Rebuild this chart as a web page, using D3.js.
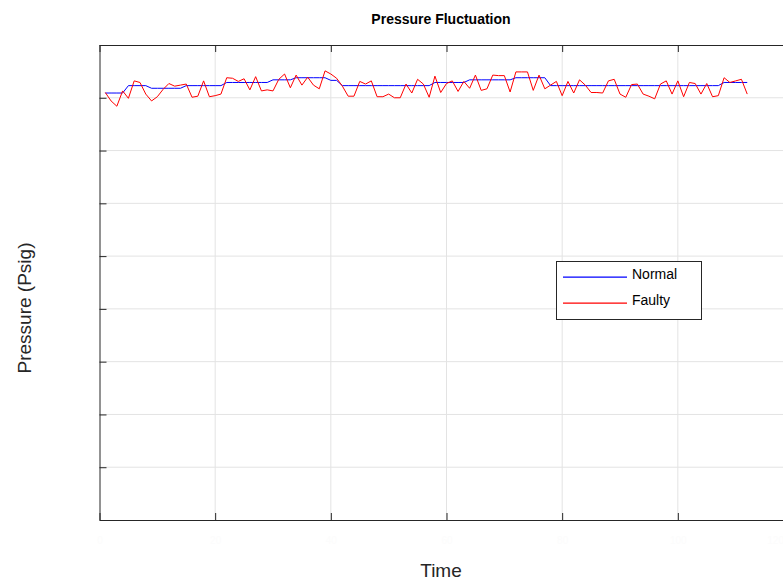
<!DOCTYPE html>
<html>
<head>
<meta charset="utf-8">
<script src="https://cdn.jsdelivr.net/npm/d3@7/dist/d3.min.js"></script>
<style>
  html, body { margin: 0; padding: 0; background: #fff; }
  svg { display: block; font-family: "Liberation Sans", Arial, sans-serif; }
</style>
</head>
<body>
<svg id="chart" width="783" height="581"></svg>
<script>
// ---- Data ----
const time = d3.range(1, 113); // t = 1 .. 112

const normal = [
  80.9, 80.9, 80.9, 80.9, 82.3, 82.3, 82.3, 82.3, 81.8, 81.8,
  81.8, 81.8, 81.8, 81.8, 82.3, 82.3, 82.3, 82.3, 82.3, 82.3,
  82.3, 82.9, 82.9, 82.9, 82.9, 82.9, 82.9, 82.9, 82.9, 83.4,
  83.4, 83.4, 83.4, 83.8, 83.8, 83.8, 83.8, 83.8, 83.8, 83.3,
  83.3, 82.3, 82.3, 82.3, 82.3, 82.3, 82.3, 82.3, 82.3, 82.3,
  82.3, 82.3, 82.3, 82.3, 82.3, 82.3, 82.3, 82.9, 82.9, 82.9,
  82.9, 82.9, 82.9, 83.4, 83.4, 83.4, 83.4, 83.4, 83.4, 83.4,
  83.4, 83.8, 83.8, 83.8, 83.8, 83.8, 83.8, 82.3, 82.3, 82.3,
  82.3, 82.3, 82.3, 82.3, 82.3, 82.3, 82.3, 82.3, 82.3, 82.3,
  82.3, 82.3, 82.3, 82.3, 82.3, 82.3, 82.3, 82.3, 82.3, 82.3,
  82.3, 82.3, 82.3, 82.3, 82.3, 82.3, 82.3, 82.9, 82.9, 82.9,
  82.9, 82.9
];

const faulty = [
  81.0, 79.4, 78.4, 81.3, 79.9, 83.2, 82.9, 80.7, 79.4, 80.2,
  81.6, 82.7, 82.2, 82.4, 82.6, 80.1, 80.3, 83.2, 80.2, 80.4,
  80.7, 83.8, 83.7, 83.1, 83.6, 81.5, 84.0, 81.3, 81.5, 81.3,
  83.5, 84.5, 81.9, 84.3, 82.4, 83.9, 82.4, 81.7, 85.1, 84.5,
  83.7, 82.2, 80.3, 80.3, 83.1, 82.6, 83.2, 80.2, 80.2, 80.7,
  80.0, 80.0, 82.6, 80.9, 83.5, 82.6, 80.1, 84.1, 81.0, 82.7,
  83.2, 81.2, 83.1, 81.8, 84.3, 81.4, 81.7, 84.3, 84.2, 84.2,
  81.1, 84.9, 84.9, 84.9, 81.4, 84.3, 81.7, 82.4, 83.1, 80.4,
  83.1, 80.9, 83.4, 82.4, 81.0, 81.0, 80.9, 83.2, 83.5, 80.7,
  80.1, 82.5, 82.6, 80.7, 80.3, 79.8, 82.6, 83.2, 80.7, 83.2,
  80.2, 82.9, 82.7, 80.7, 82.7, 80.2, 80.4, 83.8, 82.9, 83.2,
  83.5, 80.7
];

const xTicks = [0, 20, 40, 60, 80, 100, 120];
const yTicks = [0, 10, 20, 30, 40, 50, 60, 70, 80, 90];
const seriesNames = ["Normal", "Faulty"];
const seriesColors = ["#0000ff", "#ff0000"];

// ---- Layout ----
const svg = d3.select("#chart");
const L = 99.5, R = 793.5, T = 45, B = 520;

const x = d3.scaleLinear().domain([0, 120]).range([L, R]);
const y = d3.scaleLinear().domain([0, 90]).range([B, T]);

// grid
const grid = svg.append("g");
grid.selectAll("line.vg").data(xTicks.slice(1)).join("line")
  .attr("x1", d => x(d)).attr("x2", d => x(d))
  .attr("y1", T).attr("y2", B)
  .attr("stroke", "#e3e3e3").attr("stroke-width", 1);
grid.selectAll("line.hg").data(yTicks.slice(1, -1)).join("line")
  .attr("x1", L).attr("x2", R)
  .attr("y1", d => y(d)).attr("y2", d => y(d))
  .attr("stroke", "#e3e3e3").attr("stroke-width", 1);

// lines
const line = d3.line().x((d, i) => x(time[i])).y(d => y(d));
svg.append("path").datum(normal).attr("d", line)
  .attr("fill", "none").attr("stroke", seriesColors[0]).attr("stroke-width", 1);
svg.append("path").datum(faulty).attr("d", line)
  .attr("fill", "none").attr("stroke", seriesColors[1]).attr("stroke-width", 1);

// axes (ticks inward)
const axColor = "#262626";
const xb = svg.append("g").attr("transform", `translate(0,${B})`)
  .call(d3.axisBottom(x).tickValues(xTicks).tickSizeInner(-7).tickSizeOuter(0).tickPadding(17));
const xt = svg.append("g").attr("transform", `translate(0,${T})`)
  .call(d3.axisTop(x).tickValues(xTicks).tickSizeInner(-7).tickSizeOuter(0).tickFormat(""));
const yl = svg.append("g").attr("transform", `translate(${L},0)`)
  .call(d3.axisLeft(y).tickValues(yTicks).tickSizeInner(-7).tickSizeOuter(0).tickPadding(10));
[xb, xt, yl].forEach(g => {
  g.selectAll("path.domain").attr("stroke", axColor).attr("stroke-width", 1);
  g.selectAll(".tick line").attr("stroke", axColor).attr("stroke-width", 1);
  g.selectAll(".tick text").attr("font-size", 10)
    .attr("font-family", "Liberation Sans, Arial, sans-serif");
});
// tick labels are (almost) invisible in the reference
xb.selectAll(".tick text").attr("fill", "#fcfcfc");
xb.selectAll(".tick text").filter(d => d === 120).attr("text-anchor", "end").attr("x", -10);
yl.selectAll(".tick text").attr("fill", "#ffffff");

// title and labels
svg.append("text").attr("x", 441).attr("y", 24).attr("text-anchor", "middle")
  .attr("font-size", 14).attr("font-weight", "bold").attr("fill", "#000")
  .text("Pressure Fluctuation");
svg.append("text").attr("x", 441).attr("y", 577).attr("text-anchor", "middle")
  .attr("font-size", 19).attr("fill", "#262626").text("Time");
svg.append("text")
  .attr("transform", "translate(31,308) rotate(-90)")
  .attr("text-anchor", "middle")
  .attr("font-size", 19).attr("fill", "#262626").text("Pressure (Psig)");

// legend
const lg = svg.append("g");
lg.append("rect").attr("x", 556.5).attr("y", 261.5).attr("width", 145).attr("height", 58)
  .attr("fill", "#fff").attr("stroke", axColor).attr("stroke-width", 1);
lg.selectAll("line.key").data(seriesNames).join("line")
  .attr("class", "key")
  .attr("x1", 563).attr("x2", 627)
  .attr("y1", (d, i) => 277.2 + i * 26).attr("y2", (d, i) => 277.2 + i * 26)
  .attr("stroke", (d, i) => seriesColors[i]).attr("stroke-width", 1.3);
lg.selectAll("text.key").data(seriesNames).join("text")
  .attr("class", "key")
  .attr("x", 632).attr("y", (d, i) => 278.5 + i * 26)
  .attr("font-size", 14).attr("fill", "#000").text(d => d);
</script>
</body>
</html>
